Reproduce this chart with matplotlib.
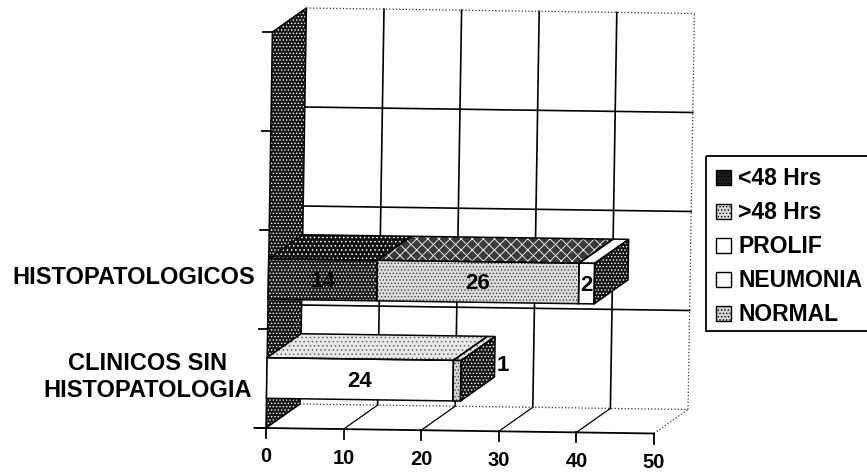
import matplotlib
import matplotlib.pyplot as plt
from matplotlib.patches import Polygon, Patch, Rectangle

matplotlib.use('agg')

plt.rcParams['font.family'] = ['Liberation Sans', 'DejaVu Sans']
plt.rcParams['font.weight'] = 'bold'
plt.rcParams['hatch.linewidth'] = 0.6

series = ['<48 Hrs', '>48 Hrs', 'PROLIF', 'NEUMONIA', 'NORMAL']
clinicos = [0, 0, 0, 24, 1]
histo = [14, 26, 2, 0, 0]
value_ticks = [0, 10, 20, 30, 40, 50]
n_slots = 4

# face, hatch colour, hatch for each series
front_style = [('#1c1c1c', 'white', '.....'), ('#dcdcdc', '#444444', '.....'),
               ('white', 'white', None), ('white', 'white', None),
               ('#d4d4d4', '#444444', '.....')]
top_style = [('#111111', 'white', '....'), ('#3a3a3a', 'white', 'xxx'),
             ('white', 'white', None), ('#e8e8e8', '#666666', '....'),
             ('#e8e8e8', '#666666', '....')]
side_style = ('#141414', 'white', '.....')


def proj(v, c, d=0.0):
    """ Oblique projection: value, category slot, depth to picture pixels. """
    return (266 + 7.76 * v + 1.6 * c + 34 * d,
            428 + 0.11 * v - 99 * c - 24 * d)


def face(ax, corners, style, z):
    fc, hc, hatch = style
    pts = [proj(*p) for p in corners]
    if hatch:
        ax.add_patch(Polygon(pts, facecolor=fc, edgecolor=hc, hatch=hatch, lw=0, zorder=z))
    else:
        ax.add_patch(Polygon(pts, facecolor=fc, edgecolor='none', zorder=z))
    ax.add_patch(Polygon(pts, fill=False, edgecolor='black', lw=1.1, zorder=z + 0.1))


def draw_bar(ax, slot, values):
    lo, hi = slot + 0.30, slot + 0.71
    left = 0
    z = 5
    for i, val in enumerate(values):
        if val == 0:
            continue
        right = left + val
        face(ax, [(left, hi, 0), (right, hi, 0), (right, hi, 1), (left, hi, 1)], top_style[i], z)
        face(ax, [(left, lo, 0), (right, lo, 0), (right, hi, 0), (left, hi, 0)], front_style[i], z)
        cx, cy = proj(left + val / 2, (lo + hi) / 2)
        cy += 2
        if val == 1:
            # Too thin for its label, so it sits past the side of the bar.
            cx, cy = proj(right, (lo + hi) / 2, 1)
            cx += 8
            cy += 9
        ax.text(cx, cy, str(val), ha='center', va='center', fontsize=16, zorder=z + 2)
        left = right
    face(ax, [(left, lo, 0), (left, lo, 1), (left, hi, 1), (left, hi, 0)], side_style, z)


fig = plt.figure(figsize=(8.67, 4.76), dpi=100)
ax = fig.add_axes([0, 0, 1, 1])
ax.set_xlim(0, 867)
ax.set_ylim(476, 0)
ax.axis('off')

# Back wall grid and floor.
for v in value_ticks[1:-1]:
    ax.plot(*zip(proj(v, 0, 1), proj(v, n_slots, 1)), color='black', lw=1.2, zorder=1)
    ax.plot(*zip(proj(v, 0, 0), proj(v, 0, 1)), color='black', lw=0.9, zorder=1)
for c in range(1, n_slots):
    ax.plot(*zip(proj(0, c, 1), proj(50, c, 1)), color='black', lw=1.2, zorder=1)
# The outer edges came out faint in the scan.
for a, b in [(proj(0, 0, 1), proj(50, 0, 1)), (proj(0, n_slots, 1), proj(50, n_slots, 1)),
             (proj(50, 0, 1), proj(50, n_slots, 1)), (proj(50, 0, 0), proj(50, 0, 1))]:
    ax.plot(*zip(a, b), color='#333333', lw=0.9, ls=':', zorder=1)

# Dark left wall.
face(ax, [(0, 0, 0), (0, n_slots, 0), (0, n_slots, 1), (0, 0, 1)], side_style, 2)

# Front axis lines and ticks.
ax.plot(*zip(proj(-1.5, 0), proj(50, 0)), color='black', lw=1.3, zorder=3)
for v in value_ticks:
    x, y = proj(v, 0)
    ax.plot([x, x], [y, y + 10], color='black', lw=1.3, zorder=3)
    ax.text(x, y + 29, str(v), ha='center', va='center', fontsize=14.5)
for c in range(n_slots + 1):
    x, y = proj(0, c)
    ax.plot([x - 9, x], [y, y], color='black', lw=1.3, zorder=3)

draw_bar(ax, 0, clinicos)
draw_bar(ax, 1, histo)

ax.text(255, 277, 'HISTOPATOLOGICOS', ha='right', va='center', fontsize=17)
ax.text(147.5, 377, 'CLINICOS SIN\nHISTOPATOLOGIA', ha='center', va='center', fontsize=17,
        linespacing=1.25)

# Legend frame runs off the right edge of the page, so it is drawn by hand.
ax.add_patch(Rectangle((706, 156), 170, 175, fill=False, edgecolor='black', lw=1.3, zorder=6))
handles = [Patch(facecolor=fc, edgecolor='black', hatch=h) for fc, hc, h in front_style]
ax.legend(handles, series, loc='upper left', bbox_to_anchor=(706 / 867, 1 - 157 / 476),
          borderaxespad=0, fontsize=16.5, frameon=False, handlelength=0.66, handleheight=0.66,
          handletextpad=0.3, labelspacing=0.48, borderpad=0.45)

fig.savefig('out.png', dpi=100)
